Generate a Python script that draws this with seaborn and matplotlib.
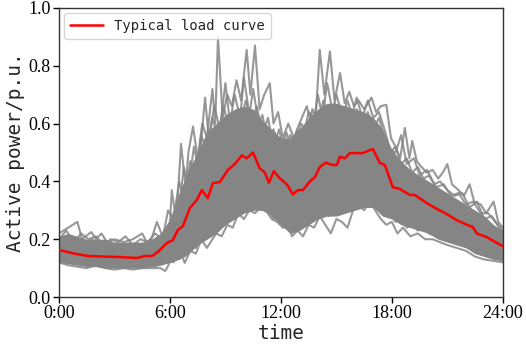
import numpy as np
import pandas as pd
import matplotlib
matplotlib.use("Agg")
import matplotlib.pyplot as plt
import seaborn as sns

# ----------------------------------
# Data (hours of day, load in p.u.)
# ----------------------------------
# typical (red) load curve
red_hours = [0.0, 0.7, 1.57, 2.49, 3.41, 4.22, 4.65, 5.03, 5.35, 5.84, 6.16, 6.43,
             6.70, 7.08, 7.46, 7.73, 8.05, 8.32, 8.70, 9.14, 9.51, 9.89, 10.16,
             10.49, 10.86, 11.14, 11.35, 11.62, 11.95, 12.32, 12.65, 12.92, 13.19,
             13.57, 13.84, 14.11, 14.43, 14.76, 15.03, 15.19, 15.46, 15.73, 16.43,
             16.97, 17.35, 17.62, 18.05, 18.43, 18.97, 19.24, 19.89, 20.43, 20.97,
             21.51, 22.05, 22.38, 22.59, 23.14, 23.68, 24.0]
red_load = [0.163, 0.152, 0.142, 0.140, 0.138, 0.135, 0.142, 0.142, 0.156, 0.187,
            0.197, 0.232, 0.245, 0.308, 0.336, 0.370, 0.342, 0.394, 0.398, 0.440,
            0.460, 0.490, 0.480, 0.500, 0.445, 0.430, 0.395, 0.435, 0.410, 0.390,
            0.355, 0.370, 0.370, 0.400, 0.415, 0.450, 0.465, 0.457, 0.457, 0.485,
            0.480, 0.498, 0.498, 0.512, 0.464, 0.457, 0.380, 0.374, 0.353, 0.353,
            0.325, 0.305, 0.287, 0.266, 0.250, 0.242, 0.220, 0.207, 0.187, 0.176]

# dense core of the daily curves (half-hour grid)
band_hours = np.arange(0, 24.5, 0.5)
band_low = [0.12, 0.115, 0.11, 0.105, 0.105, 0.10, 0.10, 0.10, 0.10, 0.10,
            0.105, 0.11, 0.12, 0.13, 0.15, 0.18, 0.20, 0.22, 0.25, 0.27,
            0.29, 0.30, 0.30, 0.28, 0.25, 0.22, 0.23, 0.25, 0.27, 0.28,
            0.28, 0.29, 0.30, 0.31, 0.31, 0.28, 0.27, 0.25, 0.24, 0.23,
            0.22, 0.20, 0.19, 0.18, 0.17, 0.15, 0.14, 0.13, 0.125]
band_high = [0.21, 0.22, 0.21, 0.20, 0.20, 0.20, 0.19, 0.19, 0.19, 0.19,
             0.20, 0.22, 0.27, 0.36, 0.44, 0.50, 0.57, 0.60, 0.63, 0.65,
             0.66, 0.65, 0.61, 0.58, 0.55, 0.55, 0.58, 0.62, 0.65, 0.67,
             0.67, 0.66, 0.65, 0.64, 0.62, 0.58, 0.51, 0.47, 0.44, 0.42,
             0.40, 0.38, 0.36, 0.34, 0.32, 0.30, 0.28, 0.25, 0.23]

# spiky upper curve
top_hours = [0.0, 0.5, 1.0, 1.25, 1.75, 2.0, 2.3, 2.6, 3.0, 3.5, 4.0, 4.5, 4.75,
             5.0, 5.3, 5.6, 6.0, 6.1, 6.35, 6.6, 6.85, 7.0, 7.25, 7.5, 7.75, 8.0,
             8.3, 8.45, 8.6, 8.85, 9.1, 9.35, 9.6, 9.85, 10.15, 10.35, 10.6, 10.85,
             11.1, 11.4, 11.6, 11.85, 12.1, 12.4, 12.7, 13.0, 13.4, 13.65, 13.9,
             14.1, 14.35, 14.65, 14.9, 15.2, 15.45, 15.7, 15.95, 16.2, 16.5, 16.9,
             17.15, 17.4, 17.7, 17.95, 18.2, 18.45, 18.7, 18.95, 19.1, 19.35, 19.6,
             19.9, 20.2, 20.5, 20.75, 21.0, 21.25, 21.6, 21.9, 22.2, 22.45, 22.8,
             23.1, 23.5, 23.75, 24.0]
top_load = [0.22, 0.24, 0.26, 0.20, 0.225, 0.20, 0.22, 0.19, 0.20, 0.19, 0.20,
            0.22, 0.19, 0.20, 0.26, 0.21, 0.25, 0.37, 0.26, 0.53, 0.38, 0.50,
            0.59, 0.48, 0.60, 0.55, 0.72, 0.60, 0.90, 0.62, 0.70, 0.66, 0.75,
            0.68, 0.855, 0.70, 0.87, 0.65, 0.70, 0.74, 0.60, 0.64, 0.55, 0.60,
            0.55, 0.60, 0.66, 0.60, 0.64, 0.855, 0.70, 0.85, 0.68, 0.775, 0.67,
            0.71, 0.66, 0.68, 0.65, 0.69, 0.64, 0.66, 0.665, 0.55, 0.52, 0.48,
            0.585, 0.48, 0.54, 0.47, 0.45, 0.43, 0.44, 0.41, 0.43, 0.46, 0.39,
            0.37, 0.35, 0.39, 0.33, 0.32, 0.29, 0.33, 0.26, 0.24]

# second spiky curve inside the upper part of the bundle
mid_hours = [0.0, 0.6, 1.2, 1.8, 2.4, 3.0, 3.6, 4.2, 4.8, 5.4, 6.0,
             6.5, 6.75, 7.0, 7.3, 7.55, 7.9, 8.1, 8.4, 8.7, 9.0, 9.25, 9.5,
             9.8, 10.0, 10.3, 10.5, 10.8, 11.0, 11.25, 11.6, 12.0, 12.3, 12.6,
             12.9, 13.2, 13.5, 13.8, 14.0, 14.25, 14.5, 14.8, 15.0, 15.35, 15.6,
             15.85, 16.1, 16.4, 16.7, 17.0, 17.3, 17.6, 17.9, 18.2, 18.5, 18.8,
             19.2, 19.5, 19.9, 20.3, 20.6, 21.0, 21.4, 21.8, 22.2, 22.6, 23.0,
             23.4, 23.7, 24.0]
mid_load = [0.18, 0.20, 0.17, 0.20, 0.16, 0.18, 0.16, 0.18, 0.16, 0.19, 0.22,
            0.30, 0.45, 0.38, 0.52, 0.44, 0.69, 0.55, 0.66, 0.58, 0.74,
            0.60, 0.70, 0.62, 0.76, 0.63, 0.72, 0.60, 0.63, 0.55, 0.58, 0.50,
            0.57, 0.50, 0.58, 0.55, 0.64, 0.62, 0.70, 0.62, 0.74, 0.64, 0.70,
            0.62, 0.68, 0.63, 0.69, 0.62, 0.68, 0.62, 0.64, 0.58, 0.51, 0.50,
            0.56, 0.46, 0.48, 0.42, 0.44, 0.39, 0.40, 0.37, 0.35, 0.36, 0.31,
            0.33, 0.27, 0.28, 0.25, 0.22]

# spiky lower curve
low_hours = [0.0, 0.5, 1.0, 1.5, 2.0, 2.5, 3.0, 3.5, 4.0, 4.5, 5.0, 5.5, 5.75,
             6.0, 6.3, 6.6, 6.8, 7.1, 7.4, 7.7, 8.0, 8.3, 8.5, 8.8, 9.1, 9.4,
             9.7, 10.0, 10.3, 10.6, 10.9, 11.2, 11.5, 11.8, 12.1, 12.4, 12.6,
             12.9, 13.2, 13.5, 13.8, 14.1, 14.4, 14.7, 15.0, 15.3, 15.6, 15.9,
             16.2, 16.5, 16.8, 17.1, 17.4, 17.7, 18.0, 18.3, 18.6, 19.0, 19.4,
             19.8, 20.2, 20.6, 21.0, 21.5, 22.0, 22.5, 23.0, 23.5, 24.0]
low_load = [0.12, 0.11, 0.105, 0.10, 0.11, 0.10, 0.095, 0.10, 0.095, 0.10, 0.10,
            0.10, 0.09, 0.12, 0.13, 0.15, 0.118, 0.16, 0.15, 0.20, 0.17, 0.20,
            0.22, 0.21, 0.25, 0.24, 0.29, 0.27, 0.30, 0.29, 0.31, 0.30, 0.27,
            0.26, 0.24, 0.25, 0.21, 0.23, 0.21, 0.25, 0.24, 0.28, 0.25, 0.22,
            0.27, 0.26, 0.24, 0.30, 0.32, 0.30, 0.33, 0.30, 0.27, 0.25, 0.26,
            0.22, 0.24, 0.21, 0.22, 0.20, 0.20, 0.19, 0.18, 0.17, 0.16, 0.14,
            0.13, 0.125, 0.12]

# two more jagged curves along the edges of the dense core
edge_hours = [0.0, 0.4, 0.8, 1.2, 1.6, 2.0, 2.4, 2.8, 3.2, 3.6, 4.0, 4.4, 4.8,
              5.2, 5.6, 5.9, 6.2, 6.5, 6.8, 7.1, 7.4, 7.7, 8.0, 8.3, 8.6, 8.9,
              9.2, 9.5, 9.8, 10.1, 10.4, 10.7, 11.0, 11.3, 11.6, 11.9, 12.2,
              12.5, 12.8, 13.1, 13.4, 13.7, 14.0, 14.3, 14.6, 14.9, 15.2, 15.5,
              15.8, 16.1, 16.4, 16.7, 17.0, 17.3, 17.6, 17.9, 18.2, 18.5, 18.8,
              19.1, 19.4, 19.7, 20.0, 20.4, 20.8, 21.2, 21.6, 22.0, 22.4, 22.8,
              23.2, 23.6, 24.0]
edge_high = [0.20, 0.23, 0.19, 0.22, 0.20, 0.21, 0.18, 0.20, 0.19, 0.21, 0.18,
             0.20, 0.19, 0.22, 0.20,
             0.30, 0.27, 0.40, 0.33, 0.47, 0.40, 0.56, 0.50, 0.62, 0.55, 0.66,
             0.58, 0.64, 0.60, 0.68, 0.60, 0.66, 0.56, 0.62, 0.52, 0.58, 0.50,
             0.56, 0.53, 0.60, 0.57, 0.65, 0.60, 0.68, 0.62, 0.67, 0.60, 0.66,
             0.61, 0.65, 0.60, 0.64, 0.58, 0.62, 0.55, 0.50, 0.52, 0.46, 0.48,
             0.43, 0.45, 0.41, 0.42,
             0.38, 0.39, 0.35, 0.36, 0.32, 0.33, 0.29, 0.29, 0.26, 0.23]
edge_low = [0.13, 0.12, 0.125, 0.11, 0.12, 0.11, 0.115, 0.105, 0.11, 0.105, 0.11,
            0.10, 0.11, 0.105, 0.12,
            0.13, 0.12, 0.16, 0.14, 0.19, 0.17, 0.23, 0.21, 0.26, 0.23, 0.28,
            0.26, 0.31, 0.29, 0.33, 0.31, 0.34, 0.30, 0.31, 0.27, 0.28, 0.24,
            0.25, 0.23, 0.27, 0.25, 0.29, 0.27, 0.31, 0.28, 0.32, 0.29, 0.33,
            0.30, 0.34, 0.31, 0.35, 0.32, 0.30, 0.28, 0.29, 0.26, 0.27, 0.24,
            0.25, 0.23, 0.24, 0.22,
            0.21, 0.20, 0.20, 0.18, 0.18, 0.16, 0.15, 0.14, 0.135, 0.13]

tick_hours = [0, 6, 12, 18, 24]
tick_labels = ["0:00", "6:00", "12:00", "18:00", "24:00"]

# ----------------------------------
# Style
# ----------------------------------
sns.set_theme(style="ticks")
plt.rcParams["font.family"] = ["DejaVu Sans Mono", "DejaVu Sans"]
plt.rcParams["xtick.direction"] = "out"
plt.rcParams["ytick.direction"] = "out"

fig = plt.figure(figsize=(5.26, 3.45), dpi=100)
ax = fig.add_axes([0.112, 0.139, 0.844, 0.838])

grey = "#858585"

# ----------------------------------
# Daily curves bundle
# ----------------------------------
ax.fill_between(band_hours, band_low, band_high, color=grey, lw=0, zorder=1)

bundle = [(top_hours, top_load), (mid_hours, mid_load), (low_hours, low_load),
          (edge_hours, edge_high), (edge_hours, edge_low)]
for hrs, vals in bundle:
    sns.lineplot(x=hrs, y=vals, ax=ax, color=grey, lw=1.5, alpha=0.85,
                 estimator=None, zorder=2)

# ----------------------------------
# Typical load curve
# ----------------------------------
sns.lineplot(x=red_hours, y=red_load, ax=ax, color="red", lw=1.8,
             estimator=None, label="Typical load curve", zorder=3)

ax.set_xlim(0, 24)
ax.set_ylim(0, 1.0)
ax.set_xticks(tick_hours)
ax.set_xticklabels(tick_labels)
ax.set_yticks([0.0, 0.2, 0.4, 0.6, 0.8, 1.0])
ax.set_yticklabels(["0.0", "0.2", "0.4", "0.6", "0.8", "1.0"])
for lab in ax.get_xticklabels() + ax.get_yticklabels():
    lab.set_family("Liberation Serif")
    lab.set_fontsize(13)
ax.tick_params(length=4, width=1, pad=2, colors="black")

ax.set_xlabel("time", fontsize=14, labelpad=1)
ax.set_ylabel("Active power/p.u.", fontsize=14, labelpad=2)

for sp in ax.spines.values():
    sp.set_color("#333333")
    sp.set_linewidth(1)

leg = ax.legend(loc="upper left", fontsize=10, handlelength=2.4,
                borderaxespad=0.4, frameon=True)
leg.get_frame().set_edgecolor("#cccccc")

fig.savefig("out.png", dpi=100)
